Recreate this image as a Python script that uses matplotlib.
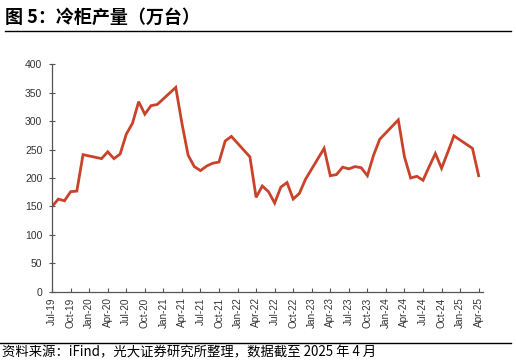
import numpy as np
import matplotlib as mpl
mpl.use("Agg")
from matplotlib import pyplot as plt

# Monthly freezer output (10k units); Jan/Feb not reported separately
months = ['2019-07', '2019-08', '2019-09', '2019-10', '2019-11', '2019-12',
          '2020-03', '2020-04', '2020-05', '2020-06', '2020-07', '2020-08',
          '2020-09', '2020-10', '2020-11', '2020-12',
          '2021-03', '2021-04', '2021-05', '2021-06', '2021-07', '2021-08',
          '2021-09', '2021-10', '2021-11', '2021-12',
          '2022-03', '2022-04', '2022-05', '2022-06', '2022-07', '2022-08',
          '2022-09', '2022-10', '2022-11', '2022-12',
          '2023-03', '2023-04', '2023-05', '2023-06', '2023-07', '2023-08',
          '2023-09', '2023-10', '2023-11', '2023-12',
          '2024-03', '2024-04', '2024-05', '2024-06', '2024-07', '2024-08',
          '2024-09', '2024-10', '2024-11', '2024-12',
          '2025-03', '2025-04']
values = [150, 163, 160, 176, 177, 241,
          234, 246, 234, 242, 277, 296,
          334, 312, 327, 329,
          359, 296, 240, 220, 213, 221,
          226, 228, 265, 273,
          237, 166, 186, 176, 156, 184,
          192, 163, 173, 198,
          252, 204, 206, 219, 216, 220,
          218, 204, 240, 268,
          302, 237, 200, 203, 196, 220,
          243, 217, 245, 274,
          252, 204]

tick_labels = ['Jul-19', 'Oct-19', 'Jan-20', 'Apr-20', 'Jul-20', 'Oct-20',
               'Jan-21', 'Apr-21', 'Jul-21', 'Oct-21', 'Jan-22', 'Apr-22',
               'Jul-22', 'Oct-22', 'Jan-23', 'Apr-23', 'Jul-23', 'Oct-23',
               'Jan-24', 'Apr-24', 'Jul-24', 'Oct-24', 'Jan-25', 'Apr-25']

title = '图 5：冷柜产量（万台）'
source = '资料来源：iFind，光大证券研究所整理，数据截至 2025 年 4 月'

# month index counted from Jul-19
def month_idx(s):
    y, m = s.split('-')
    return (int(y) - 2019) * 12 + int(m) - 7

x = np.array([month_idx(m) for m in months])

plt.rcParams['font.family'] = ['Liberation Sans', 'Noto Sans CJK SC', 'DejaVu Sans']

fig = plt.figure(figsize=(5.16, 3.64), dpi=100)
ax = fig.add_axes([0.101, 0.198, 0.835, 0.626])

ax.plot(x, values, color='#C9432A', lw=2.0, solid_joinstyle='miter')

ax.set_xlim(0, 69.7)
ax.set_ylim(0, 400)
ax.set_yticks(np.arange(0, 401, 50))
ax.set_xticks(np.arange(0, 70, 3))
ax.set_xticklabels(tick_labels, rotation=90)

for s in ['top', 'right']:
    ax.spines[s].set_visible(False)
for s in ['left', 'bottom']:
    ax.spines[s].set_color('#555555')
    ax.spines[s].set_linewidth(0.9)
ax.tick_params(axis='x', direction='in', length=3, color='#555555',
               labelsize=7.2, labelcolor='#333333', pad=4)
ax.tick_params(axis='y', direction='inout', length=4, color='#555555',
               labelsize=7.5, labelcolor='#333333', pad=5)

fig.text(0.01, 0.953, title, fontsize=13, fontweight='bold',
         family=['Noto Sans CJK SC', 'DejaVu Sans'], va='center', ha='left')
fig.add_artist(plt.Line2D([0.01, 0.99], [0.915, 0.915], color='black', lw=1.0,
                          transform=fig.transFigure))
fig.add_artist(plt.Line2D([0.0, 0.99], [0.058, 0.058], color='black', lw=1.0,
                          transform=fig.transFigure))
fig.text(0.004, 0.031, source, fontsize=9.6,
         family=['Noto Sans CJK SC', 'DejaVu Sans'], va='center', ha='left')

fig.savefig('out.png', dpi=100)
